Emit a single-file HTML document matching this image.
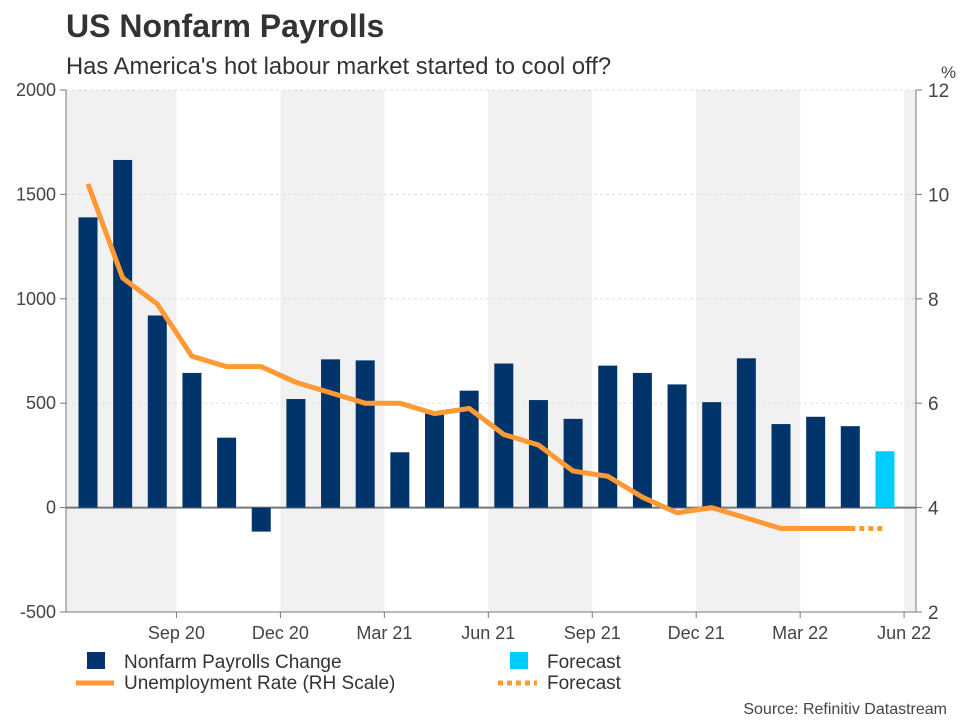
<!DOCTYPE html>
<html><head><meta charset="utf-8"><style>
body{margin:0;background:#fff;}
svg text{font-family:"Liberation Sans",Arial,sans-serif;}
</style></head><body>
<svg width="960" height="720" viewBox="0 0 960 720" xmlns="http://www.w3.org/2000/svg">
<text x="66" y="37" font-size="32" font-weight="bold" fill="#333">US Nonfarm Payrolls</text>
<text x="66" y="74" font-size="23.8" fill="#333">Has America's hot labour market started to cool off?</text>
<text x="941" y="78" font-size="17" fill="#444">%</text>
<g id="bands"></g>
<g id="grid"></g>
<g id="bars"></g>
<g id="axes"></g>
<g id="line"></g>
<g>
<rect x="87" y="652" width="18" height="17" fill="#00346b"/>
<text x="124" y="668" font-size="19" fill="#333">Nonfarm Payrolls Change</text>
<rect x="510" y="652" width="18" height="17" fill="#00ccff"/>
<text x="547" y="668" font-size="19" fill="#333">Forecast</text>
<line x1="76" y1="683" x2="114" y2="683" stroke="#ff9933" stroke-width="5"/>
<text x="124" y="689" font-size="19" fill="#333">Unemployment Rate (RH Scale)</text>
<line x1="498" y1="683" x2="537" y2="683" stroke="#ff9933" stroke-width="5" stroke-dasharray="5,4"/>
<text x="547" y="689" font-size="19" fill="#333">Forecast</text>
</g>
<text x="947" y="714" font-size="16" fill="#444" text-anchor="end">Source: Refinitiv Datastream</text>
</svg>
<script>
const payrolls=[1390,1665,920,645,335,-115,520,710,705,265,450,560,690,515,425,680,645,590,505,715,400,435,390,270];
const unemployment=[10.2,8.4,7.9,6.9,6.7,6.7,6.4,6.2,6.0,6.0,5.8,5.9,5.4,5.2,4.7,4.6,4.2,3.9,4.0,3.8,3.6,3.6,3.6,3.6];
const leftTicks=[-500,0,500,1000,1500,2000];
const rightTicks=[2,4,6,8,10,12];
const xTickLabels=["Sep 20","Dec 20","Mar 21","Jun 21","Sep 21","Dec 21","Mar 22","Jun 22"];
const xTickMonth=[3,6,9,12,15,18,21,24];
const NS="http://www.w3.org/2000/svg";
const L=66,R=916,T=90,B=612;
const yL=v=>T+(2000-v)*(B-T)/2500;
const yR=v=>T+(12-v)*(B-T)/10;
const step=34.65,x0=88;
const xC=i=>x0+i*step;
const xB=m=>xC(m)-15.5;
function mk(tag,attrs,parent){const e=document.createElementNS(NS,tag);for(const k in attrs)e.setAttribute(k,attrs[k]);document.getElementById(parent).appendChild(e);return e;}
let edges=[L].concat(xTickMonth.map(xB)).concat([R]);
for(let i=0;i<edges.length-1;i++){ if(i%2==0){const e=mk('rect',{x:edges[i],y:T,width:Math.min(edges[i+1],R)-edges[i],height:B-T,fill:'#f1f1f1'},'bands');

}}
leftTicks.forEach(v=>{const y=yL(v);
const g=mk('line',{x1:L,x2:R,y1:y,y2:y,stroke:v===0?'#777':'#ddd','stroke-width':v===0?2:1,'stroke-dasharray':v===0?'':'3,3'},'grid');


const t=mk('text',{x:56,y:y+6,'font-size':18,fill:'#444','text-anchor':'end'},'axes');t.textContent=v;


mk('line',{x1:L-6,x2:L,y1:y,y2:y,stroke:'#777'},'axes');});
rightTicks.forEach(v=>{const y=yR(v);
const t=mk('text',{x:928,y:y+7,'font-size':19,fill:'#444'},'axes');t.textContent=v;


mk('line',{x1:R,x2:R+6,y1:y,y2:y,stroke:'#777'},'axes');});
mk('line',{x1:L,x2:L,y1:T,y2:B,stroke:'#777'},'axes');
mk('line',{x1:R,x2:R,y1:T,y2:B,stroke:'#777'},'axes');
mk('line',{x1:L,x2:R,y1:B,y2:B,stroke:'#777'},'axes');
xTickMonth.forEach((m,i)=>{const x=xB(m);
mk('line',{x1:x,x2:x,y1:B,y2:B+6,stroke:'#777'},'axes');
const t=mk('text',{x:x,y:B+27,'font-size':18,fill:'#444','text-anchor':'middle'},'axes');t.textContent=xTickLabels[i];

});
payrolls.forEach((v,i)=>{const y0=yL(0),y=yL(v);const last=i===payrolls.length-1;
const b=mk('rect',{x:xC(i)-9.5,y:Math.min(y,y0),width:19,height:Math.abs(y-y0),fill:last?'#00ccff':'#00346b'},'bars');

});
const n=unemployment.length;
let d='';for(let i=0;i<n-1;i++)d+=(i?'L':'M')+xC(i)+','+yR(unemployment[i]);
const pl=mk('path',{d:d,fill:'none',stroke:'#ff9933','stroke-width':5,'stroke-linejoin':'round'},'line');


const fl=mk('line',{x1:xC(n-2),y1:yR(unemployment[n-2]),x2:xC(n-1),y2:yR(unemployment[n-1]),stroke:'#ff9933','stroke-width':5,'stroke-dasharray':'5,4'},'line');


</script>
</body></html>
